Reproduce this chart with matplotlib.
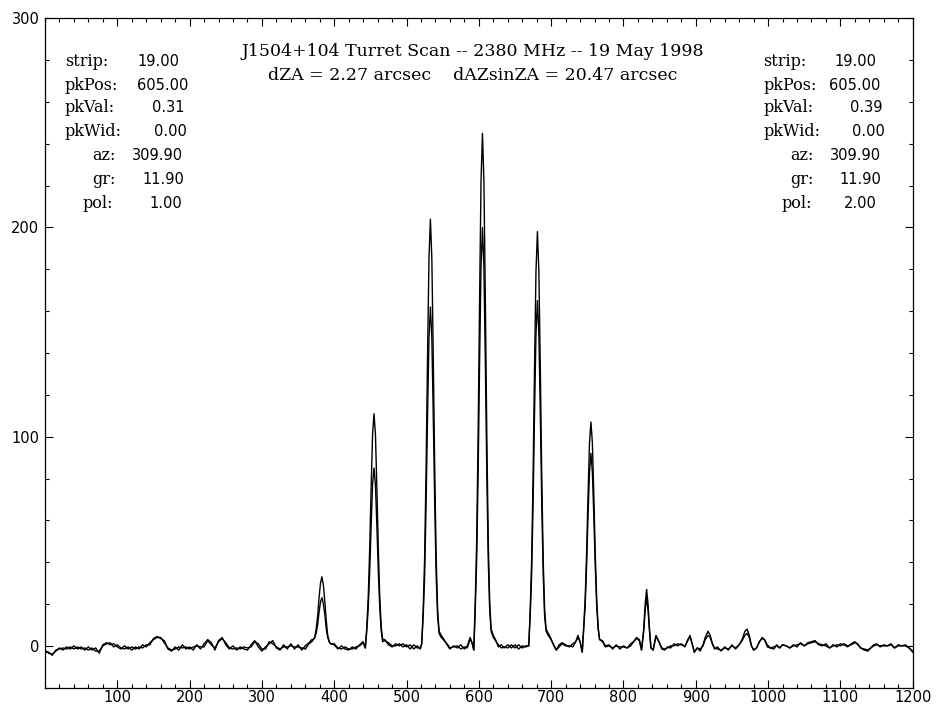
import matplotlib
matplotlib.use("Agg")
import matplotlib.pyplot as plt
from matplotlib.ticker import MultipleLocator, FixedLocator

# channel numbers (x) and the two polarisation traces
chan = [0, 5, 10, 15, 20, 25, 30, 35, 40, 45, 50, 55, 60, 65, 70, 75, 80, 85, 90, 95,
        100, 105, 110, 115, 120, 125, 130, 135, 140, 145, 150, 155, 160, 165, 170, 175, 180, 185, 190, 195,
        200, 205, 210, 215, 220, 225, 230, 235, 240, 245, 250, 255, 260, 265, 270, 275, 280, 285, 290, 295,
        300, 305, 310, 315, 320, 325, 330, 335, 340, 345, 350, 355, 360, 365, 369,
        371, 373, 375, 377, 379, 381, 383, 385, 387, 389, 391, 393, 395,
        400, 405, 410, 415, 420, 425, 430, 435, 440,
        443, 445, 447, 449, 451, 453, 455, 457, 459, 461, 463, 465, 467,
        470, 475, 480, 485, 490, 495, 500, 505, 510, 515, 519,
        521, 523, 525, 527, 529, 531, 533, 535, 537, 539, 541, 543, 545,
        548, 552, 556, 560, 565, 570, 575, 580, 584, 588, 591,
        593, 595, 597, 599, 601, 603, 605, 607, 609, 611, 613, 615, 617,
        620, 623, 627, 631, 635, 640, 645, 650, 655, 660, 665,
        669, 671, 673, 675, 677, 679, 681, 683, 685, 687, 689, 691, 693,
        696, 699, 703, 707, 711, 715, 720, 725, 730, 734, 737, 740, 743,
        745, 747, 749, 751, 753, 755, 757, 759, 761, 763, 765, 767,
        771, 775, 780, 785, 790, 795, 800, 805, 810, 814, 818, 822, 825,
        828, 830, 832, 834, 836, 838,
        841, 845, 849, 853, 857, 861, 865, 870, 875, 880, 885, 889, 892, 895, 898, 902, 906, 910,
        913, 917, 920, 923, 926, 930, 935, 940, 945, 950, 955, 960, 964, 968, 971, 974, 977, 980,
        984, 988, 992, 995, 999, 1003, 1008, 1012, 1016, 1020, 1025, 1030, 1035, 1040, 1045, 1050,
        1055, 1060, 1065, 1070, 1075, 1080, 1085, 1090, 1095, 1100, 1105, 1110, 1115, 1120, 1124,
        1128, 1133, 1138, 1142, 1146, 1150, 1155, 1160, 1165, 1170, 1175, 1180, 1185, 1190, 1195, 1200]

pol2 = [-2, -3.5, -4, -2.5, -1, -2, -0.5, -1.5, 0, -1.5, -0.5, -2, -0.5, -2, -1, -3.5, 0.5, 1.5, 0.5, 1,
        -0.5, -1.5, 0, -1.5, -0.5, -1.5, -0.5, -1, 0.5, 0.5, 3.5, 4.5, 3.5, 2.5, -1.5, -2.5, -0.5, -2, 0.5, -1.5,
        -0.5, -2, 0.5, -1.5, 1, 3, 1.5, -2, 2.5, 4, 0.5, -1.5, 0, -2, -0.5, -1.5, -2, 0.5, 2.5, -0.5,
        -2.5, -0.5, 1, 2.5, -1, -2, 0.5, -1.5, 1, -1.5, 0.5, -2, 0, 1.5, 3,
        3, 4, 8, 14, 23, 30, 33, 29, 21, 12, 5, 2, 1,
        0.5, -1.5, 0, -1.5, -2, -0.5, -1.5, 0.5, 2,
        -1, 9, 23, 46, 75, 101, 111, 101, 75, 46, 23, 9, 3,
        3, 0.5, -0.5, 1, 0, 1, -0.5, 0.5, -1.5, 0, -1.5,
        1, 17, 42, 84, 137, 185, 204, 185, 137, 84, 42, 17, 7,
        5, 3, 0.5, -1.5, 0, -1, 0.5, -1.5, 0, 4, 1,
        -2, 21, 50, 101, 165, 222, 245, 222, 165, 101, 50, 21, 8,
        5, 3, -0.5, 0.5, -1, 0.5, -1, 0.5, -1.5, 0, -0.5,
        0, 17, 41, 81, 133, 179, 198, 179, 133, 81, 41, 17, 8,
        6, 4, 0.5, -2, 0.5, 1.5, 0.5, -0.5, 1, 2, 5, 2, -3,
        9, 22, 44, 72, 97, 107, 97, 72, 44, 22, 9, 3,
        2.5, 0, 0.5, -1.5, 0.5, -1.5, 0, -1, 1, 2, 4, 3, -2,
        8, 20, 27, 20, 8, -1,
        -2, 5, 2, -1.5, -2, -0.5, -1, 1, 0, 1, -0.5, 3, 5, 1, -3, -1, -2.5, 0.5,
        4, 7, 5, 1, -1.5, -0.5, -2.5, -0.5, -2, 0.5, -1.5, 0.5, 3, 7, 8, 5, 0, -2,
        -1, 2, 4, 3, -0.5, -1, -1.5, 0.5, -1, 0.5, 0, -1, 0.5, -0.5, 1.5, 0,
        1.5, 2, 2.5, 0.5, 0, 1, -1, 0.5, -0.5, 1, 0.5, -0.5, 1, 2, 0.5,
        -1, -2, -2.5, -1, 0.5, 1, -0.5, 0.5, 0, 1, -1, 0.5, 0, 0.5, -1, -3]

pol1 = [-3, -3, -4.5, -2, -1.5, -1, -1.5, -0.5, -1.5, -0.5, -1.5, -1, -2, -1, -2.5, -2.5, 0, 1, 1.5, -0.5,
        0.5, -1, -1.5, -0.5, -2, -0.5, -1.5, 0.5, -0.5, 1.5, 3, 4, 4, 1.5, -1, -2, -1.5, -0.5, -1, -0.5,
        -1.5, -0.5, 0, -0.5, -0.5, 2.5, 0.5, -1, 2, 3.5, 1.5, -1, -1.5, -1, -1.5, -0.5, -1, -0.5, 2, 1,
        -1.5, -1.5, 2, 1, -0.5, -1.5, -0.5, -0.5, 0, -0.5, -0.5, -1, -1.5, 1, 2,
        3, 4, 6, 10, 16, 21, 23, 20, 15, 8, 4, 2, 1,
        1, -1, -1.5, -0.5, -1.5, -1.5, -0.5, 0, 1.5,
        -1, 7, 18, 35, 57, 77, 85, 77, 57, 35, 18, 7, 2,
        2.5, 1.5, 0, 0, 1, -0.5, 0.5, -1.5, 0.5, -1, -1,
        1, 14, 33, 67, 109, 147, 162, 147, 109, 67, 33, 14, 6,
        4, 2.5, 1, -1, -0.5, 0, -1.5, -0.5, -1, 3.5, 1,
        -2, 17, 41, 82, 135, 181, 200, 181, 135, 82, 41, 17, 7,
        4, 2.5, 0.5, -1, -0.5, -1, 0.5, -1, 0.5, -1, 0,
        0, 14, 34, 68, 111, 149, 165, 149, 111, 68, 34, 14, 7,
        5, 3.5, 1, -2, -0.5, 1, 0, 0, -0.5, 2, 4, 2, -3,
        8, 19, 38, 62, 83, 92, 83, 62, 38, 19, 8, 3,
        2, -0.5, 0, -1, 0, -0.5, -0.5, -1, 0, 2, 3.5, 2.5, -2,
        7, 17, 23, 17, 7, -1,
        -2, 4.5, 2, -1, -1.5, -1, 0, 0, 1, 0.5, 0, 2.5, 4.5, 1, -3, -1, -1.5, 0,
        3, 5, 4, 1, -1, -1.5, -2, -1, -1.5, 0, -1, 0.5, 2.5, 5, 6, 4, 0, -2,
        -1, 2, 3.5, 3, 0.5, -1, -0.5, 0, -1, 0.5, 0, -1, 0, 0.5, 1, 0,
        1, 1.5, 2, 1, 0.5, 0, -1, 0, 0.5, 0, 1, 0, 0.5, 1.5, 1,
        -1, -1.5, -2, -1, 0, 0.5, 0, 0, 0, 0.5, -1, 0, 0, 0, -1, -2.5]

title_lines = ["J1504+104 Turret Scan -- 2380 MHz -- 19 May 1998",
               "dZA = 2.27 arcsec    dAZsinZA = 20.47 arcsec"]
info_names = ["strip:", "pkPos:", "pkVal:", "pkWid:", "az:", "gr:", "pol:"]
info_pol1 = ["19.00", "605.00", "0.31", "0.00", "309.90", "11.90", "1.00"]
info_pol2 = ["19.00", "605.00", "0.39", "0.00", "309.90", "11.90", "2.00"]

W, H = 945, 704
fig = plt.figure(figsize=(W / 100, H / 100), dpi=100)
ax = fig.add_axes([45 / W, 1 - 687.7 / H, 867.7 / W, 669.4 / H])

ax.plot(chan, pol1, color="black", lw=1.0)
ax.plot(chan, pol2, color="black", lw=1.0)

ax.set_xlim(0, 1200)
ax.set_ylim(-20, 300)
ax.xaxis.set_major_locator(FixedLocator(range(100, 1201, 100)))
ax.xaxis.set_minor_locator(MultipleLocator(20))
ax.yaxis.set_major_locator(FixedLocator([0, 100, 200, 300]))
ax.yaxis.set_minor_locator(MultipleLocator(20))
ax.tick_params(which="both", direction="in", top=True, right=True, width=0.8, color="black")
ax.tick_params(which="major", length=6)
ax.tick_params(which="minor", length=3)
ax.tick_params(axis="x", pad=2, labelsize=10.5)
ax.tick_params(axis="y", pad=4, labelsize=10.5)
for lab in ax.get_xticklabels() + ax.get_yticklabels():
    lab.set_family("DejaVu Sans")
for s in ax.spines.values():
    s.set_linewidth(0.9)

# header
fig.text(473 / W, 1 - 52 / H, title_lines[0], ha="center", va="center",
         family="DejaVu Serif", fontsize=12.5)
fig.text(473 / W, 1 - 76 / H, title_lines[1], ha="center", va="center",
         family="DejaVu Serif", fontsize=12.5)

# info blocks (left = pol 1, right = pol 2)
rows_y = [61, 85, 108, 132, 156, 180, 204]
name_x_left = [65, 65, 65, 65, 92, 92, 83]
val_x_left = [137, 137, 152, 154, 132, 142, 149]
name_x_right = [763, 763, 763, 763, 790, 790, 782]
val_x_right = [834, 829, 850, 852, 830, 839, 844]
for i, name in enumerate(info_names):
    y = 1 - rows_y[i] / H
    fig.text(name_x_left[i] / W, y, name, va="center", family="DejaVu Serif", fontsize=11.5)
    fig.text(val_x_left[i] / W, y, info_pol1[i], va="center", family="DejaVu Sans", fontsize=10.5)
    fig.text(name_x_right[i] / W, y, name, va="center", family="DejaVu Serif", fontsize=11.5)
    fig.text(val_x_right[i] / W, y, info_pol2[i], va="center", family="DejaVu Sans", fontsize=10.5)

fig.savefig("out.png", dpi=100)
